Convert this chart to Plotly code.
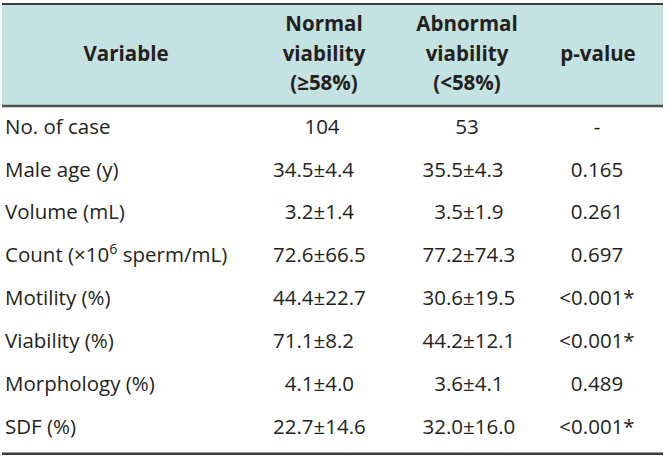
import plotly.graph_objects as go

# ---- data ----
variables = ["No. of case", "Male age (y)", "Volume (mL)",
             "Count (×10<sup>6</sup> sperm/mL)", "Motility (%)",
             "Viability (%)", "Morphology (%)", "SDF (%)"]
n_normal = "104"
n_abnormal = "53"
normal_mean = ["34.5", "3.2", "72.6", "44.4", "71.1", "4.1", "22.7"]
normal_sd = ["4.4", "1.4", "66.5", "22.7", "8.2", "4.0", "14.6"]
abnormal_mean = ["35.5", "3.5", "77.2", "30.6", "44.2", "3.6", "32.0"]
abnormal_sd = ["4.3", "1.9", "74.3", "19.5", "12.1", "4.1", "16.0"]
p_values = ["-", "0.165", "0.261", "0.697", "<0.001*", "<0.001*", "0.489", "<0.001*"]
header_variable = ["Variable"]
header_normal = ["Normal", "viability", "(≥58%)"]
header_abnormal = ["Abnormal", "viability", "(<58%)"]
header_p = ["p-value"]

# ---- layout constants ----
W, H = 671, 462
FONT = "Open Sans"
FS = 20.5
TXT = "#231f20"
X_LEFT, X_RIGHT = 2, 663
X_VAR_LEFT = 5
X_VAR_C = 126
X_NORM_C, X_NORM_PM = 322, 313.5
X_ABN_C, X_ABN_PM = 467, 463
X_P_C = 597
HEADER_LINES = [-2.39, -1.70, -1.015]
HEADER_TOP, HEADER_BOTTOM, TABLE_BOTTOM = -2.905, -0.525, 7.59

rows = list(range(len(variables)))
stat_rows = rows[1:]

fig = go.Figure()

def text_trace(xs, ys, texts, pos, bold=False):
    t = [f"<b>{s}</b>" for s in texts] if bold else texts
    fig.add_trace(go.Scatter(
        x=xs, y=ys, text=t, mode="text", textposition=pos,
        marker=dict(size=0),
        textfont=dict(family=FONT, size=FS, color=TXT),
        hoverinfo="skip", showlegend=False, cliponaxis=False))

# header
text_trace([X_VAR_C], [HEADER_LINES[1]], header_variable, "middle center", True)
text_trace([X_NORM_C + 2] * 3, HEADER_LINES, header_normal, "middle center", True)
text_trace([X_ABN_C] * 3, HEADER_LINES, header_abnormal, "middle center", True)
text_trace([X_P_C + 1], [HEADER_LINES[1]], header_p, "middle center", True)

# body
text_trace([X_VAR_LEFT] * len(rows), rows, variables, "middle right")
text_trace([X_NORM_C], [0], [n_normal], "middle center")
text_trace([X_ABN_C], [0], [n_abnormal], "middle center")
text_trace([X_NORM_PM] * len(stat_rows), stat_rows, normal_mean, "middle left")
text_trace([X_NORM_PM] * len(stat_rows), stat_rows, ["±" + s for s in normal_sd], "middle right")
text_trace([X_ABN_PM] * len(stat_rows), stat_rows, abnormal_mean, "middle left")
text_trace([X_ABN_PM] * len(stat_rows), stat_rows, ["±" + s for s in abnormal_sd], "middle right")
text_trace([X_P_C] * len(rows), rows, p_values, "middle center")

shapes = [
    dict(type="rect", xref="x", yref="y", x0=X_LEFT, x1=X_RIGHT,
         y0=HEADER_TOP, y1=HEADER_BOTTOM, fillcolor="#c4e2e1",
         line=dict(width=0), layer="below"),
    dict(type="line", xref="x", yref="y", x0=X_LEFT, x1=X_RIGHT,
         y0=HEADER_TOP, y1=HEADER_TOP, line=dict(color="#3a3a3a", width=2)),
    dict(type="line", xref="x", yref="y", x0=X_LEFT, x1=X_RIGHT,
         y0=HEADER_BOTTOM, y1=HEADER_BOTTOM, line=dict(color="#4a4f4f", width=2.5)),
    dict(type="line", xref="x", yref="y", x0=X_LEFT, x1=X_RIGHT,
         y0=TABLE_BOTTOM, y1=TABLE_BOTTOM, line=dict(color="#3a3a3a", width=2.5)),
]

fig.update_layout(
    width=W, height=H, margin=dict(l=0, r=0, t=0, b=0),
    paper_bgcolor="white", plot_bgcolor="white",
    xaxis=dict(range=[0, W], visible=False, fixedrange=True),
    yaxis=dict(range=[7.781, -3.0], visible=False, fixedrange=True),
    shapes=shapes,
)

fig.write_html("out.html", config={"displayModeBar": False},
               post_script="document.body.style.margin='0px';document.body.style.overflow='hidden';")
